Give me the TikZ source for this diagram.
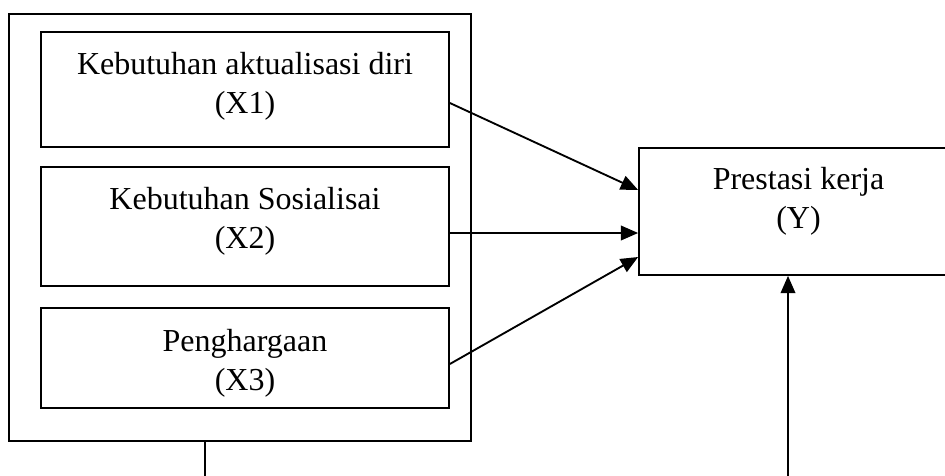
\documentclass[tikz,border=0pt]{standalone}
\usepackage{fontspec}
\setmainfont{Liberation Serif}
\usetikzlibrary{arrows.meta,calc}
\begin{document}
\begin{tikzpicture}[x=0.75pt,y=-0.75pt,
  box/.style={draw,line width=1.3pt,rectangle,inner sep=0pt},
  lbl/.style={anchor=north,inner sep=0pt,align=center,font=\fontsize{24}{29.25}\selectfont},
  conn/.style={line width=1.4pt},
  arr/.style={line width=1.4pt,-{Triangle[length=13pt,width=11pt]}}]
\useasboundingbox (0,0) rectangle (945,475);
\clip (0,0) rectangle (945,475);
% outer box
\node[box,minimum width=462*0.75pt,minimum height=427*0.75pt] (outer) at (240,227.5) {};
% inner boxes
\node[box,minimum width=408*0.75pt,minimum height=115*0.75pt] (x1) at (245,89.5) {};
\node[box,minimum width=408*0.75pt,minimum height=119*0.75pt] (x2) at (245,226.5) {};
\node[box,minimum width=408*0.75pt,minimum height=100*0.75pt] (x3) at (245,358) {};
\node[box,minimum width=319*0.75pt,minimum height=127*0.75pt] (y) at (798.5,211.5) {};
% texts
\node[lbl] (t1) at ($(x1.north)+(0,21)$) {Kebutuhan aktualisasi diri\\(X1)};
\node[lbl] (t2) at ($(x2.north)+(0,21)$) {Kebutuhan Sosialisai\\(X2)};
\node[lbl] (t3) at ($(x3.north)+(0,22)$) {Penghargaan\\(X3)};
\node[lbl] (ty) at ($(y.north)+(0,20)$) {Prestasi kerja\\(Y)};
% arrows
\draw[arr] ($(x1.east)+(0,13.5)$) -- ($(y.west)+(0,-21.5)$);
\draw[arr] ($(x2.east)+(0,6.5)$) -- ($(y.west)+(0,21.5)$);
\draw[arr] ($(x3.east)+(0,6)$) -- ($(y.west)+(0,45.5)$);
% bottom lines
\coordinate (b1) at (205,478);
\coordinate (b2) at (788,478);
\draw[conn] (b1 |- outer.south) -- (b1);
\draw[arr] (b2) -- (b2 |- y.south);
\end{tikzpicture}
\end{document}
